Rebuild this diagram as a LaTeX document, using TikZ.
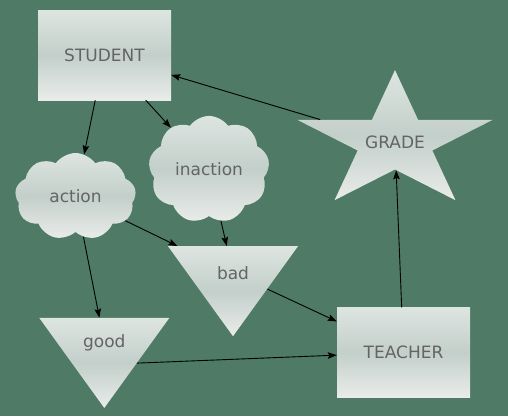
\documentclass[tikz,border=0pt]{standalone}
\usepackage{fontspec}
\setmainfont{DejaVu Sans}
\usetikzlibrary{shapes.geometric,shapes.symbols,arrows.meta}
\definecolor{bggreen}{RGB}{78,122,102}
\definecolor{shtop}{RGB}{221,229,225}
\definecolor{shmid}{RGB}{195,207,202}
\definecolor{shbot}{RGB}{233,236,234}
\definecolor{lbl}{RGB}{100,100,100}
\begin{document}
\begin{tikzpicture}[x=1pt,y=-1pt,line join=round,>={Stealth[length=9pt,width=6.5pt,inset=1.5pt]},
	font=\fontsize{17pt}{20pt}\selectfont,
	fillshade/.style={top color=shtop,bottom color=shbot,middle color=shmid,draw=none,text=lbl,inner sep=0pt},
	box/.style={fillshade,rectangle,minimum width=133pt,minimum height=90pt},
	puff/.style={fillshade,cloud,cloud puffs=9,cloud puff arc=110,minimum width=121pt,minimum height=87pt},
	tri/.style={fillshade,isosceles triangle,isosceles triangle stretches,shape border rotate=270,minimum width=130pt,minimum height=90pt},
	link/.style={->,line width=0.9pt}]
	\useasboundingbox[fill=bggreen] (0,0) rectangle (508,416);
	\node[box] (student) at (104.5,55) {STUDENT};
	\node[box] (teacher) at (403.5,352.5) {TEACHER};
	\node[puff] (action) at (75.5,196.5) {action};
	\node[puff] (inaction) at (209,169.5) {inaction};
	\node[tri] (bad) at (233,273) {bad};
	\node[tri] (good) at (104.3,342.5) {good};
	\begin{scope}[shift={(395,142)},xscale=1.43]
		\node[fillshade,star,star points=5,star point ratio=2.618,minimum size=143.8pt,transform shape] (grade) at (0,0) {};
	\end{scope}
	\node[text=lbl] (gradetxt) at (395,142) {GRADE};
	\draw[link] (student) -- (action);
	\draw[link] (student) -- (inaction);
	\draw[link] (action) -- (good);
	\draw[link] (action) -- (bad);
	\draw[link] (inaction) -- (bad);
	\draw[link] (bad) -- (teacher);
	\draw[link] (good.left side) -- (teacher);
	\draw[link] (teacher) -- (grade);
	\draw[link] (grade) -- (student);
\end{tikzpicture}
\end{document}
